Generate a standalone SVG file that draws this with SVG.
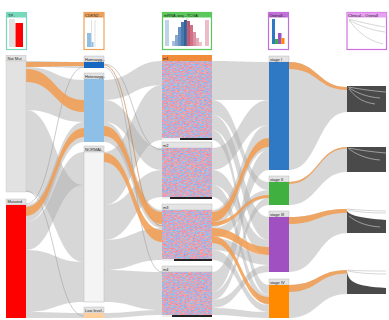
<svg xmlns="http://www.w3.org/2000/svg" width="389" height="320" viewBox="0 0 389 320">
<defs>
<style>
text{font-family:"Liberation Sans",Arial,sans-serif;font-size:4px;fill:#222}
.g{fill:#b0b0b0;fill-opacity:.5}
.o{fill:#f29c50;fill-opacity:.85}
.ol{fill:none;stroke:#c8782e;stroke-width:.7;opacity:.85}
.tl{fill:none;stroke:#999;stroke-width:.5}
.lb{fill:#e4e4e4;stroke:#b0b0b0;stroke-width:.4}
.km{fill:#4a4a4a}
.kc{fill:none;stroke:#eee;stroke-width:.5}
.kg{fill:none;stroke:#999;stroke-width:.4}
.hm{filter:url(#hm)}
</style>
<filter id="hm" x="0" y="0" width="1" height="1" color-interpolation-filters="sRGB">
<feTurbulence type="fractalNoise" baseFrequency="0.45 1.3" numOctaves="2" seed="7"/>
<feColorMatrix type="matrix" values="1.3 0 0 0 0.14  -0.4 0.3 0 0 0.72  -1.0 0 0 0 1.28  0 0 0 0 1"/>
</filter>
</defs>
<rect width="389" height="320" fill="#fff"/>

<g id="connectors">
<!-- col1 -> col2 -->
<path class="g" d="M26,61 C55,61 55,62 84,62 L84,68 C55,68 55,67 26,67Z"/>
<path class="g" d="M26,67 C55,67 55,80 84,80 L84,122 C55,122 55,110 26,110Z"/>
<path class="g" d="M26,110 C55,110 55,185 84,185 L84,262 C55,262 55,192 26,192Z"/>
<path class="g" d="M26,222 C55,222 55,152 84,152 L84,185 C55,185 55,250 26,250Z"/>
<path class="g" d="M26,205 C55,205 55,122 84,122 L84,142 C55,142 55,222 26,222Z"/>
<path class="g" d="M26,250 C55,250 55,262 84,262 L84,302 C55,302 55,312 26,312Z"/>
<path class="g" d="M26,312 C55,312 55,313 84,313 L84,318 C55,318 55,318 26,318Z"/>
<path class="tl" d="M26,204 C55,204 55,67 84,67"/>
<path class="tl" d="M26,191 C55,191 55,316 84,316"/>
<path class="o" d="M26,62 C55,62 55,62 84,62 L84,66 C55,66 55,67 26,67Z"/>
<path class="o" d="M26,69 C55,69 55,100 84,100 L84,112 C55,112 55,82 26,82Z"/>
<path class="o" d="M26,207 C55,207 55,128 84,128 L84,137 C55,137 55,216 26,216Z"/>
<!-- col2 -> col3 -->
<path class="g" d="M104,80 C133,80 133,61 162,61 L162,85 C133,85 133,100 104,100Z"/>
<path class="g" d="M104,152 C133,152 133,85 162,85 L162,140 C133,140 133,205 104,205Z"/>
<path class="g" d="M104,100 C133,100 133,148 162,148 L162,170 C133,170 133,122 104,122Z"/>
<path class="g" d="M104,122 C133,122 133,210 162,210 L162,228 C133,228 133,142 104,142Z"/>
<path class="g" d="M104,205 C133,205 133,170 162,170 L162,197 C133,197 133,240 104,240Z"/>
<path class="g" d="M104,240 C133,240 133,228 162,228 L162,260 C133,260 133,270 104,270Z"/>
<path class="g" d="M104,270 C133,270 133,272 162,272 L162,310 C133,310 133,302 104,302Z"/>
<path class="g" d="M104,313 C133,313 133,310 162,310 L162,315 C133,315 133,318 104,318Z"/>
<path class="tl" d="M104,64 C133,64 133,150 162,150"/>
<path class="tl" d="M104,67 C133,67 133,272 162,272"/>
<path class="ol" d="M104,65 C133,65 133,226 162,226"/>
<path class="o" d="M104,126 C133,126 133,212 162,212 L162,224 C133,224 133,136 104,136Z"/>
<path class="o" d="M104,153 C133,153 133,230 162,230 L162,242 C133,242 133,162 104,162Z"/>
<!-- col3 -> col4 -->
<path class="g" d="M212,61 C240.5,61 240.5,62 269,62 L269,100 C240.5,100 240.5,100 212,100Z"/>
<path class="g" d="M212,100 C240.5,100 240.5,182 269,182 L269,190 C240.5,190 240.5,115 212,115Z"/>
<path class="g" d="M212,115 C240.5,115 240.5,217 269,217 L269,240 C240.5,240 240.5,130 212,130Z"/>
<path class="g" d="M212,130 C240.5,130 240.5,285 269,285 L269,295 C240.5,295 240.5,140 212,140Z"/>
<path class="g" d="M212,148 C240.5,148 240.5,100 269,100 L269,125 C240.5,125 240.5,170 212,170Z"/>
<path class="g" d="M212,170 C240.5,170 240.5,240 269,240 L269,255 C240.5,255 240.5,185 212,185Z"/>
<path class="g" d="M212,185 C240.5,185 240.5,295 269,295 L269,305 C240.5,305 240.5,197 212,197Z"/>
<path class="g" d="M212,210 C240.5,210 240.5,125 269,125 L269,150 C240.5,150 240.5,228 212,228Z"/>
<path class="g" d="M212,228 C240.5,228 240.5,190 269,190 L269,198 C240.5,198 240.5,238 212,238Z"/>
<path class="g" d="M212,238 C240.5,238 240.5,255 269,255 L269,265 C240.5,265 240.5,250 212,250Z"/>
<path class="g" d="M212,250 C240.5,250 240.5,305 269,305 L269,312 C240.5,312 240.5,260 212,260Z"/>
<path class="g" d="M212,272 C240.5,272 240.5,150 269,150 L269,170 C240.5,170 240.5,292 212,292Z"/>
<path class="g" d="M212,292 C240.5,292 240.5,198 269,198 L269,205 C240.5,205 240.5,300 212,300Z"/>
<path class="g" d="M212,300 C240.5,300 240.5,265 269,265 L269,272 C240.5,272 240.5,308 212,308Z"/>
<path class="g" d="M212,308 C240.5,308 240.5,312 269,312 L269,318 C240.5,318 240.5,315 212,315Z"/>
<path class="o" d="M212,212 C240.5,212 240.5,138 269,138 L269,147 C240.5,147 240.5,222 212,222Z"/>
<path class="o" d="M212,222 C240.5,222 240.5,195 269,195 L269,198 C240.5,198 240.5,226 212,226Z"/>
<path class="o" d="M212,228 C240.5,228 240.5,247 269,247 L269,255 C240.5,255 240.5,236 212,236Z"/>
<path class="o" d="M212,236 C240.5,236 240.5,297 269,297 L269,304 C240.5,304 240.5,243 212,243Z"/>
<!-- col4 -> col5 -->
<path class="g" d="M289,62 C318,62 318,87 347,87 L347,112 C318,112 318,170 289,170Z"/>
<path class="g" d="M289,182 C318,182 318,147 347,147 L347,172 C318,172 318,205 289,205Z"/>
<path class="g" d="M289,217 C318,217 318,209 347,209 L347,233 C318,233 318,272 289,272Z"/>
<path class="g" d="M289,285 C318,285 318,270 347,270 L347,294 C318,294 318,318 289,318Z"/>
<path class="o" d="M289,62 C318,62 318,87 347,87 L347,90 C318,90 318,69 289,69Z"/>
<path class="o" d="M289,182 C318,182 318,147 347,147 L347,148.5 C318,148.5 318,184 289,184Z"/>
<path class="o" d="M289,217 C318,217 318,209 347,209 L347,213 C318,213 318,224 289,224Z"/>
<path class="o" d="M289,285 C318,285 318,270 347,270 L347,273.5 C318,273.5 318,292 289,292Z"/>
</g>

<!-- column 1 -->
<g id="tp53-header">
<rect x="6.5" y="12.5" width="20" height="37" fill="#fff" stroke="#78d8bc" stroke-width="1.2"/>
<rect x="6.5" y="12.5" width="20" height="5" fill="#78d8bc"/>
<text x="8" y="16.6">TP..</text>
<rect x="9" y="19" width="6" height="28" fill="#e0e0e0"/>
<rect x="15.5" y="23" width="7.5" height="24" fill="#f00"/>
</g>
<g id="notmut">
<rect class="lb" x="6" y="55.5" width="20" height="5.5"/>
<text x="7.5" y="59.8">Not Mut</text>
<rect x="6" y="61" width="20" height="131" fill="#e2e2e2" stroke="#c8c8c8" stroke-width=".4"/>
</g>
<g id="mutated">
<rect class="lb" x="6" y="199" width="20" height="5.5"/>
<text x="7.5" y="203.3">Mutated</text>
<rect x="6" y="205" width="20" height="113" fill="#f00"/>
</g>

<!-- column 2 -->
<g id="cdkn2a-header">
<rect x="84" y="12.5" width="20" height="37" fill="#fff" stroke="#eda25c" stroke-width="1.2"/>
<rect x="84" y="12.5" width="20" height="5" fill="#eda25c"/>
<text x="85" y="16.6">CDKN2...</text>
<line x1="91.5" y1="20" x2="91.5" y2="47" stroke="#ccc" stroke-width=".6"/>
<line x1="95" y1="20" x2="95" y2="47" stroke="#ccc" stroke-width=".6"/>
<rect x="87" y="33" width="4" height="14" fill="#8ebfe6"/>
<rect x="91.5" y="42" width="2" height="5" fill="#8ebfe6"/>
</g>
<g id="homozyg">
<rect class="lb" x="84" y="56" width="20" height="6"/>
<text x="85" y="60.5">Homozyg...</text>
<rect x="84" y="62" width="20" height="6" fill="#1668c0"/>
</g>
<g id="heterozyg">
<rect class="lb" x="84" y="73" width="20" height="6"/>
<text x="85" y="77.5">Heterozyg..</text>
<rect x="84" y="79" width="20" height="63" fill="#8ebfe6"/>
</g>
<g id="normal">
<rect class="lb" x="84" y="146" width="20" height="6"/>
<text x="85" y="150.5">NORMAL</text>
<rect x="84" y="152" width="20" height="150" fill="#f4f4f4" stroke="#bbb" stroke-width=".5"/>
</g>
<g id="lowlevel">
<rect class="lb" x="84" y="307" width="20" height="6"/>
<text x="85" y="311.5">Low level..</text>
<rect x="84" y="313" width="20" height="5" fill="#ffcf9e"/>
</g>

<!-- column 3 -->
<g id="mrna-header">
<rect x="162.5" y="12.5" width="49" height="37" fill="#fff" stroke="#5cc85c" stroke-width="1.2"/>
<rect x="162.5" y="12.5" width="49" height="5" fill="#5cc85c"/>
<text x="164" y="16.6">mRNA-seq...TCGA</text>
<rect x="165" y="20" width="4" height="26" fill="#c0d2e8"/>
<rect x="172" y="41" width="3" height="5" fill="#a8c0e0"/>
<rect x="175" y="35" width="3" height="11" fill="#88a8d0"/>
<rect x="178" y="27" width="3" height="19" fill="#6890c0"/>
<rect x="181" y="22" width="3" height="24" fill="#4a78b0"/>
<rect x="184" y="20" width="3" height="26" fill="#346098"/>
<rect x="187" y="21" width="3" height="25" fill="#c05870"/>
<rect x="190" y="25" width="3" height="21" fill="#d07088"/>
<rect x="193" y="32" width="3" height="14" fill="#dc90a4"/>
<rect x="196" y="38" width="3" height="8" fill="#e6aab8"/>
<rect x="199" y="42" width="3" height="4" fill="#eec0cc"/>
<rect x="205" y="20" width="4" height="26" fill="#ecbcc8"/>
<line x1="187" y1="18" x2="187" y2="47" stroke="#999" stroke-width=".4"/>
</g>
<g id="m1">
<rect x="162" y="55" width="50" height="6" fill="#f08c3c"/>
<text x="163" y="59.5">m1</text>
<rect class="hm" x="162" y="61" width="50" height="77"/>
<rect x="162" y="138" width="18" height="2" fill="#eee"/>
<rect x="180" y="138" width="32" height="2" fill="#222"/>
</g>
<g id="m2">
<rect class="lb" x="162" y="142" width="50" height="6"/>
<text x="163" y="146.5">m2</text>
<rect class="hm" x="162" y="148" width="50" height="49"/>
<rect x="162" y="197" width="8" height="2" fill="#eee"/>
<rect x="170" y="197" width="42" height="2" fill="#222"/>
</g>
<g id="m3">
<rect class="lb" x="162" y="204" width="50" height="6"/>
<text x="163" y="208.5">m3</text>
<rect class="hm" x="162" y="210" width="50" height="49"/>
<rect x="162" y="259" width="12" height="2" fill="#eee"/>
<rect x="174" y="259" width="38" height="2" fill="#222"/>
</g>
<g id="m4">
<rect class="lb" x="162" y="266" width="50" height="6"/>
<text x="163" y="270.5">m4</text>
<rect class="hm" x="162" y="272" width="50" height="43"/>
<rect x="162" y="315" width="10" height="2" fill="#eee"/>
<rect x="172" y="315" width="40" height="2" fill="#222"/>
</g>

<!-- column 4 -->
<g id="stage-header">
<rect x="268.5" y="12.5" width="20" height="37" fill="#fff" stroke="#c070d8" stroke-width="1.2"/>
<rect x="268.5" y="12.5" width="20" height="5" fill="#c070d8"/>
<text x="269.5" y="16.6">Overall...</text>
<rect x="272" y="19" width="3" height="25" fill="#2f78c4"/>
<rect x="275" y="39" width="3" height="5" fill="#40b040"/>
<rect x="278" y="33" width="3.5" height="11" fill="#a050c0"/>
<rect x="281.5" y="38" width="3" height="6" fill="#ff8a00"/>
</g>
<g id="stage1">
<rect class="lb" x="269" y="56" width="20" height="6"/>
<text x="270" y="60.5">stage I</text>
<rect x="269" y="62" width="20" height="108" fill="#2f78c4"/>
</g>
<g id="stage2">
<rect class="lb" x="269" y="176" width="20" height="6"/>
<text x="270" y="180.5">stage II</text>
<rect x="269" y="182" width="20" height="23" fill="#40b040"/>
</g>
<g id="stage3">
<rect class="lb" x="269" y="211" width="20" height="6"/>
<text x="270" y="215.5">stage III</text>
<rect x="269" y="217" width="20" height="55" fill="#a050c0"/>
</g>
<g id="stage4">
<rect class="lb" x="269" y="279" width="20" height="6"/>
<text x="270" y="283.5">stage IV</text>
<rect x="269" y="285" width="20" height="33" fill="#ff8a00"/>
</g>

<!-- column 5 -->
<g id="survival-header">
<rect x="347" y="12.5" width="39.5" height="37" fill="#fff" stroke="#d070e0" stroke-width="1.2"/>
<rect x="347" y="12.5" width="39.5" height="5" fill="#e8a0f0"/>
<text x="348" y="16.6">Clinical... Overall</text>
<path class="kg" d="M349,19 C360,22 372,25 385,27"/>
<path class="kg" d="M349,20 C358,25 370,30 385,32"/>
<path class="kg" d="M349,20 C356,30 366,40 383,44"/>
</g>
<g id="km1">
<rect x="347" y="86" width="39" height="26" class="km"/>
<path class="kc" d="M348,87 C360,89 372,91 386,92"/>
<path class="kc" d="M349,88 C356,92 365,97 380,98"/>
<path class="kc" d="M349,89 C354,95 360,102 375,104"/>
</g>
<g id="km2">
<rect x="347" y="147" width="39" height="25" class="km"/>
<path class="kc" d="M348,148 C360,150 372,152 386,153"/>
<path class="kc" d="M349,149 C356,154 366,159 380,160"/>
</g>
<g id="km3">
<path class="kg" d="M347,209 C360,210 372,211 386,211"/>
<path class="kg" d="M348,210 C358,212 370,213 386,213"/>
<path class="km" d="M347,211 C350,215 358,218 386,220 L386,233 L347,233Z"/>
<path class="kc" d="M349,216 C356,222 366,226 380,227"/>
</g>
<g id="km4">
<path class="kg" d="M347,270 C360,271 372,271 386,271"/>
<path class="kg" d="M348,271 C358,273 370,274 386,274"/>
<path class="km" d="M347,272 C349,282 355,286 386,288 L386,294 L347,294Z"/>
</g>
</svg>
